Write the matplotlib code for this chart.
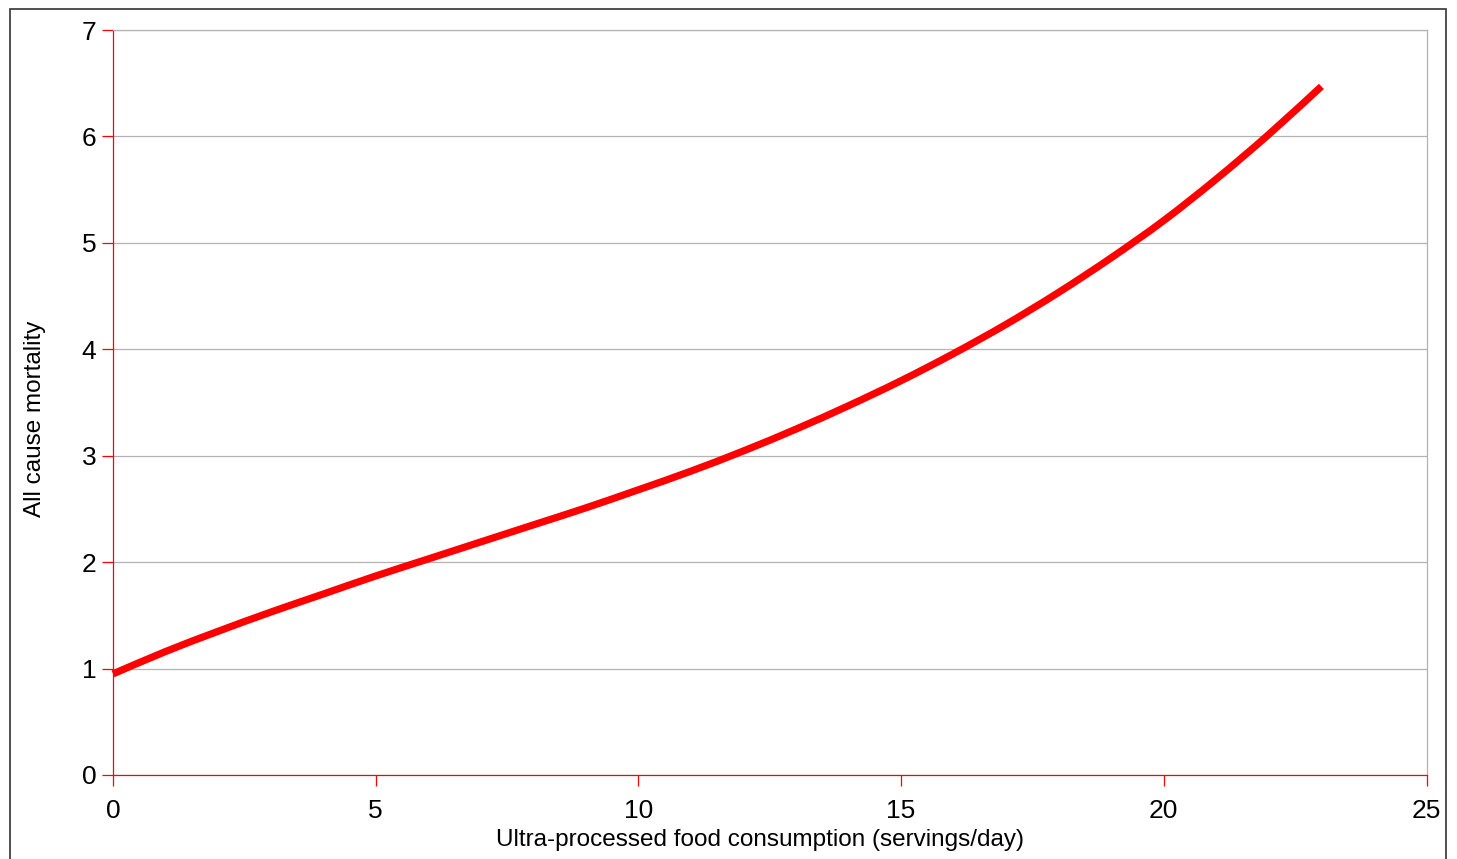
import matplotlib
matplotlib.use("Agg")
import numpy as np
import matplotlib.pyplot as plt
from matplotlib.patches import Rectangle, PathPatch
from matplotlib.path import Path

plt.rcParams['font.family'] = ['Liberation Sans', 'DejaVu Sans']

servings = [0, 1, 2, 3, 4, 5, 6, 7, 8, 9, 10, 11, 12, 13, 14, 15, 16, 17, 18, 19, 20, 21, 22, 23]
mortality = [0.95, 1.16, 1.35, 1.53, 1.70, 1.87, 2.03, 2.19, 2.35, 2.51, 2.68, 2.855,
             3.045, 3.25, 3.47, 3.705, 3.96, 4.235, 4.535, 4.86, 5.21, 5.60, 6.02, 6.47]
x_ticks = [0, 5, 10, 15, 20, 25]
y_ticks = [0, 1, 2, 3, 4, 5, 6, 7]

W, H = 1457, 859
fig = plt.figure(figsize=(W / 100, H / 100), dpi=100)
ax = fig.add_axes([113 / W, (H - 775) / H, (1426.5 - 113) / W, (775 - 30) / H])

# figure border
fig.patches.append(Rectangle((9.5 / W, -0.01), (1446 - 9.5) / W, 1.01 - 8.5 / H,
                             transform=fig.transFigure, fill=False,
                             edgecolor='#333333', linewidth=1.2, zorder=0))

# smooth curve through the data points (Catmull-Rom as cubic Bezier segments)
px = np.asarray(servings, dtype=float)
py = np.asarray(mortality, dtype=float)
verts = [(px[0], py[0])]
codes = [Path.MOVETO]
n = len(px)
for i in range(n - 1):
    p0 = (px[max(i - 1, 0)], py[max(i - 1, 0)])
    p1 = (px[i], py[i])
    p2 = (px[i + 1], py[i + 1])
    p3 = (px[min(i + 2, n - 1)], py[min(i + 2, n - 1)])
    c1 = (p1[0] + (p2[0] - p0[0]) / 6, p1[1] + (p2[1] - p0[1]) / 6)
    c2 = (p2[0] - (p3[0] - p1[0]) / 6, p2[1] - (p3[1] - p1[1]) / 6)
    verts += [c1, c2, p2]
    codes += [Path.CURVE4] * 3
curve = PathPatch(Path(verts, codes), facecolor='none', edgecolor='#ff0000',
                  linewidth=5.2, capstyle='butt', zorder=3, clip_on=False)
ax.add_patch(curve)

ax.set_xlim(0, 25)
ax.set_ylim(0, 7)
ax.set_xticks(x_ticks)
ax.set_yticks(y_ticks)

ax.grid(axis='y', color='#b3b3b3', linewidth=0.9)
ax.set_axisbelow(True)

for side in ['top', 'right']:
    ax.spines[side].set_color('#b3b3b3')
    ax.spines[side].set_linewidth(0.9)
for side in ['left', 'bottom']:
    ax.spines[side].set_color('#ff0000')
    ax.spines[side].set_linewidth(0.9)

ax.tick_params(axis='both', direction='out', color='#ff0000', length=8, width=0.9,
               labelsize=19, labelcolor='black')
ax.tick_params(axis='y', pad=4)
ax.tick_params(axis='x', pad=9)

fig.text(759.5 / W, 1 - 840 / H, 'Ultra-processed food consumption (servings/day)',
         fontsize=17.5, ha='center', va='center')
fig.text(35 / W, 1 - 419 / H, 'All cause mortality', fontsize=17.5,
         rotation=90, ha='center', va='center')

fig.savefig('out.png', dpi=100)
